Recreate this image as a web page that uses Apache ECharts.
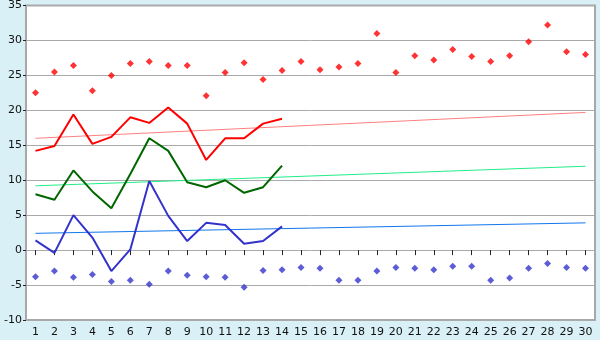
<!DOCTYPE html>
<html><head><meta charset="utf-8">
<script src="https://cdn.jsdelivr.net/npm/echarts@6/dist/echarts.min.js"></script>
<style>html,body{margin:0;padding:0;background:#d9f0f7;}#c{width:600px;height:340px;}</style>
</head><body><div id="c"></div>
<script>
var days = ['1','2','3','4','5','6','7','8','9','10','11','12','13','14','15','16','17','18','19','20','21','22','23','24','25','26','27','28','29','30'];
var maxPoints = [22.5,25.5,26.4,22.8,25.0,26.7,27.0,26.4,26.4,22.1,25.4,26.8,24.4,25.7,27.0,25.8,26.2,26.7,31.0,25.4,27.8,27.2,28.7,27.7,27.0,27.8,29.8,32.2,28.4,28.0];
var minPoints = [-3.8,-3.0,-3.9,-3.5,-4.5,-4.3,-4.9,-3.0,-3.6,-3.8,-3.9,-5.3,-2.9,-2.8,-2.5,-2.6,-4.3,-4.3,-3.0,-2.5,-2.6,-2.8,-2.3,-2.3,-4.3,-4.0,-2.6,-1.9,-2.5,-2.6];
var maxLine = [14.2,14.9,19.4,15.2,16.2,19.0,18.2,20.4,18.1,12.9,16.0,16.0,18.1,18.8];
var meanLine = [8.0,7.2,11.4,8.4,6.0,10.9,16.0,14.2,9.7,9.0,10.0,8.2,9.0,12.1];
var minLine = [1.4,-0.4,5.0,1.8,-3.0,0.1,9.9,4.9,1.3,3.9,3.6,0.9,1.3,3.4];
var trendMax = [16.0,19.7];
var trendMean = [9.2,12.0];
var trendMin = [2.4,3.9];
var yTicks = [-10,-5,0,5,10,15,20,25,30,35];

function ends(a){return [[0,a[0]],[days.length-1,a[1]]];}
var chart = echarts.init(document.getElementById('c'));
chart.setOption({
  animation:false,
  backgroundColor:'#d9f0f7',
  grid:{left:26,right:5,top:5,bottom:20,containLabel:false,show:true,backgroundColor:'#ffffff',borderColor:'#a8a8a8',borderWidth:2},
  xAxis:{type:'category',data:days,boundaryGap:true,
    axisLine:{show:false},
    axisTick:{show:true,alignWithLabel:true,length:5,lineStyle:{color:'#222'}},
    axisLabel:{color:'#111',fontFamily:'DejaVu Sans',fontSize:11,margin:7,interval:0},
    splitLine:{show:false}},
  yAxis:{type:'value',min:yTicks[0],max:yTicks[yTicks.length-1],interval:5,
    axisLine:{show:false},
    axisTick:{show:true,length:3,lineStyle:{color:'#222'}},
    axisLabel:{color:'#111',fontFamily:'DejaVu Sans',fontSize:11,margin:4},
    splitLine:{show:true,lineStyle:{color:'#aaaaaa',width:1}}},
  series:[
    {type:'line',data:ends(trendMax),symbol:'none',lineStyle:{color:'#ff8080',width:1},z:2},
    {type:'line',data:ends(trendMean),symbol:'none',lineStyle:{color:'#22ee88',width:1},z:2},
    {type:'line',data:ends(trendMin),symbol:'none',lineStyle:{color:'#1177ee',width:1},z:2},
    {type:'line',data:maxLine,symbol:'none',lineStyle:{color:'#ff0000',width:2},z:3},
    {type:'line',data:meanLine,symbol:'none',lineStyle:{color:'#006600',width:2},z:3},
    {type:'line',data:minLine,symbol:'none',lineStyle:{color:'#3333cc',width:2},z:3},
    {type:'scatter',data:maxPoints,symbol:'diamond',symbolSize:7,itemStyle:{color:'#ff0000'},z:4},
    {type:'scatter',data:minPoints,symbol:'diamond',symbolSize:7,itemStyle:{color:'#3333cc'},z:4}
  ]
});
</script></body></html>
